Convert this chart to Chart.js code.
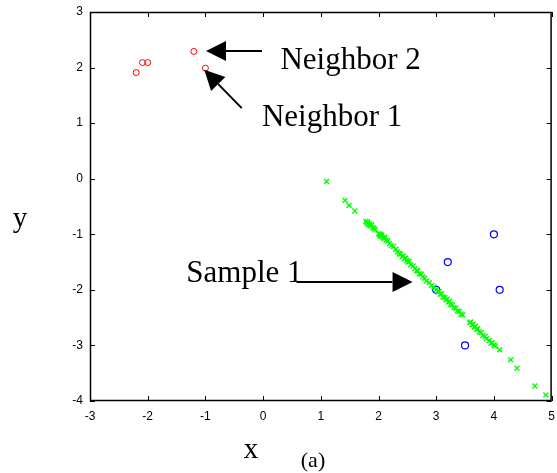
<!DOCTYPE html>
<html>
<head>
<meta charset="utf-8">
<script src="https://cdn.jsdelivr.net/npm/chart.js@4/dist/chart.umd.min.js"></script>
<style>
  html, body { margin: 0; padding: 0; background: #fff; }
  canvas { display: block; }
</style>
</head>
<body>
<canvas id="knn_chart" width="557" height="473"></canvas>
<script>
var xTicks = [-3, -2, -1, 0, 1, 2, 3, 4, 5];
var yTicks = [-4, -3, -2, -1, 0, 1, 2, 3];

// red circles (class 1)
var redX = [-2.2, -2.09, -2.0, -1.2, -1.0];
var redY = [1.91, 2.09, 2.09, 2.29, 1.99];

// blue circles (class 2)
var blueX = [4.0, 3.2, 3.0, 4.1, 3.5];
var blueY = [-1.0, -1.5, -2.0, -2.0, -3.0];

// green crosses (samples)
var greenX = [1.10, 1.42, 1.49, 1.59,
  1.78, 1.80, 1.81, 1.83, 1.84, 1.85, 1.87, 1.88, 1.90, 1.92, 1.94,
  2.00, 2.02, 2.03, 2.04, 2.05, 2.06, 2.08, 2.10, 2.11, 2.13, 2.16, 2.19, 2.22, 2.26,
  2.30, 2.33, 2.36, 2.38, 2.41, 2.43, 2.45, 2.47, 2.49, 2.51, 2.53, 2.56, 2.60, 2.63,
  2.66, 2.68, 2.71, 2.74, 2.77, 2.80, 2.83, 2.88, 2.92, 2.96,
  3.00, 3.03, 3.05, 3.07, 3.09, 3.12, 3.15, 3.17, 3.19, 3.21, 3.23, 3.25, 3.28, 3.31,
  3.34, 3.37, 3.40, 3.43, 3.46,
  3.58, 3.60, 3.62, 3.64, 3.66, 3.68, 3.70, 3.72, 3.75, 3.78, 3.81, 3.85, 3.87, 3.92,
  3.95, 3.97, 4.00, 4.02, 4.10, 4.29, 4.40, 4.71, 4.90];
var greenY = [-0.05, -0.39, -0.48, -0.58,
  -0.77, -0.80, -0.78, -0.82, -0.81, -0.84, -0.85, -0.83, -0.88, -0.89, -0.92,
  -0.99, -1.00, -1.03, -1.01, -1.04, -1.02, -1.06, -1.08, -1.05, -1.11, -1.12, -1.17, -1.20, -1.22,
  -1.27, -1.32, -1.34, -1.36, -1.40, -1.39, -1.44, -1.43, -1.47, -1.50, -1.49, -1.55, -1.57, -1.62,
  -1.65, -1.66, -1.71, -1.72, -1.77, -1.79, -1.84, -1.87, -1.92, -1.95,
  -1.99, -2.04, -2.03, -2.08, -2.07, -2.13, -2.14, -2.18, -2.17, -2.22, -2.21, -2.26, -2.27, -2.32,
  -2.33, -2.38, -2.39, -2.44, -2.45,
  -2.59, -2.58, -2.63, -2.62, -2.67, -2.66, -2.71, -2.70, -2.76, -2.77, -2.82, -2.84, -2.88, -2.91,
  -2.96, -2.95, -2.99, -3.01, -3.08, -3.26, -3.41, -3.73, -3.89];

// annotations: [label, textX, textY, tailX, tailY, tipX, tipY]
var notes = [
  ['Neighbor 2', 0.30, 1.97, -0.02, 2.30, -0.99, 2.30],
  ['Neighbor 1', -0.02, 0.95, -0.37, 1.27, -1.02, 1.96],
  ['Sample 1', -1.33, -1.86, 0.58, -1.86, 2.59, -1.86]
];

function pts(xs, ys) {
  var out = [];
  for (var i = 0; i < xs.length; i++) out.push({x: xs[i], y: ys[i]});
  return out;
}

function arrow(ctx, x1, y1, x2, y2) {
  var a = Math.atan2(y2 - y1, x2 - x1);
  var len = 20, half = 10;
  var bx = x2 - len * Math.cos(a), by = y2 - len * Math.sin(a);
  ctx.beginPath();
  ctx.moveTo(x1, y1);
  ctx.lineTo(bx, by);
  ctx.stroke();
  ctx.beginPath();
  ctx.moveTo(x2, y2);
  ctx.lineTo(bx + half * Math.sin(a), by - half * Math.cos(a));
  ctx.lineTo(bx - half * Math.sin(a), by + half * Math.cos(a));
  ctx.closePath();
  ctx.fill();
}

var boxPlugin = {
  id: 'boxPlugin',
  afterDraw: function (chart) {
    var ctx = chart.ctx, a = chart.chartArea;
    var xs = chart.scales.x, ys = chart.scales.y;
    ctx.save();
    ctx.strokeStyle = '#000';
    ctx.lineWidth = 1.5;
    ctx.strokeRect(a.left + 0.5, a.top + 0.5, a.right - a.left - 1, a.bottom - a.top - 1);
    ctx.lineWidth = 1;
    ctx.beginPath();
    xTicks.forEach(function (v) {
      var p = Math.round(xs.getPixelForValue(v)) + 0.5;
      ctx.moveTo(p, a.bottom); ctx.lineTo(p, a.bottom - 5);
      ctx.moveTo(p, a.top); ctx.lineTo(p, a.top + 5);
    });
    yTicks.forEach(function (v) {
      var p = Math.round(ys.getPixelForValue(v)) + 0.5;
      ctx.moveTo(a.left, p); ctx.lineTo(a.left + 5, p);
      ctx.moveTo(a.right, p); ctx.lineTo(a.right - 5, p);
    });
    ctx.stroke();

    ctx.fillStyle = '#000';
    ctx.lineWidth = 2;
    ctx.font = '31px "Liberation Serif", "Times New Roman", serif';
    ctx.textBaseline = 'alphabetic';
    ctx.textAlign = 'left';
    notes.forEach(function (n) {
      ctx.fillText(n[0], xs.getPixelForValue(n[1]), ys.getPixelForValue(n[2]));
      arrow(ctx, xs.getPixelForValue(n[3]), ys.getPixelForValue(n[4]),
        xs.getPixelForValue(n[5]), ys.getPixelForValue(n[6]));
    });

    ctx.textAlign = 'center';
    ctx.font = '29px "Liberation Serif", "Times New Roman", serif';
    ctx.fillText('x', 251, 458);
    ctx.fillText('y', 20, 227);
    ctx.font = '22px "Liberation Serif", "Times New Roman", serif';
    ctx.fillText('(a)', 313, 467);
    ctx.restore();
  }
};

var cntxt = document.getElementById('knn_chart');
var myChart = new Chart(cntxt, {
  type: 'scatter',
  data: {
    datasets: [
      {
        label: 'samples',
        data: pts(greenX, greenY),
        pointStyle: 'crossRot',
        pointRadius: 3.5,
        borderColor: '#00ff00',
        borderWidth: 1.4
      },
      {
        label: 'class 1',
        data: pts(redX, redY),
        pointStyle: 'circle',
        pointRadius: 3,
        borderColor: '#ff0000',
        backgroundColor: 'rgba(0,0,0,0)',
        borderWidth: 1
      },
      {
        label: 'class 2',
        data: pts(blueX, blueY),
        pointStyle: 'circle',
        pointRadius: 3.5,
        borderColor: '#0000ff',
        backgroundColor: 'rgba(0,0,0,0)',
        borderWidth: 1.2
      }
    ]
  },
  options: {
    responsive: false,
    animation: false,
    devicePixelRatio: 1,
    layout: { padding: { left: 0, top: 12, right: 2, bottom: 0 } },
    plugins: { legend: { display: false }, tooltip: { enabled: false } },
    scales: {
      x: {
        min: -3, max: 5,
        afterFit: function (s) { s.height = 72; s.paddingLeft = 0; s.paddingRight = 0; },
        afterBuildTicks: function (s) { s.ticks = xTicks.map(function (v) { return {value: v}; }); },
        grid: { display: false, drawTicks: false },
        border: { display: false },
        ticks: { padding: 8, color: '#000', font: { family: '"Liberation Sans", Arial, sans-serif', size: 12 } }
      },
      y: {
        min: -4, max: 3,
        afterFit: function (s) { s.width = 90; s.paddingTop = 0; s.paddingBottom = 0; },
        afterBuildTicks: function (s) { s.ticks = yTicks.map(function (v) { return {value: v}; }); },
        grid: { display: false, drawTicks: false },
        border: { display: false },
        ticks: { padding: 7, color: '#000', font: { family: '"Liberation Sans", Arial, sans-serif', size: 12 } }
      }
    }
  },
  plugins: [boxPlugin]
});
</script>
</body>
</html>
